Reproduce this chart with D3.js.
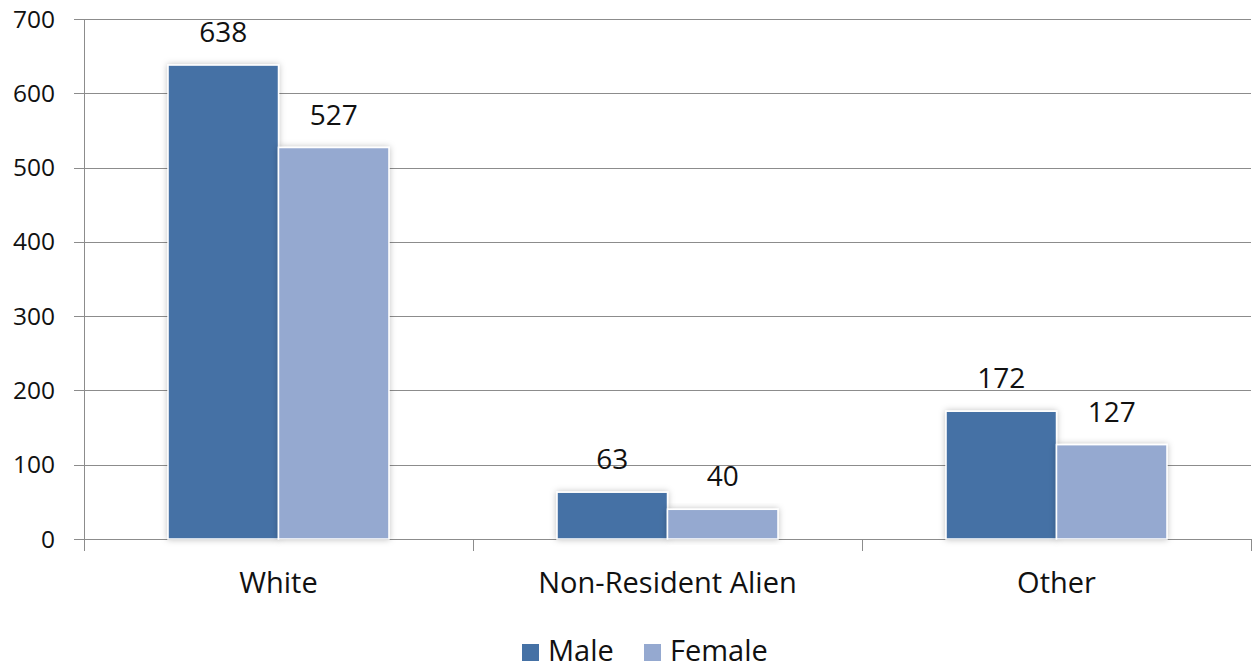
<!DOCTYPE html>
<html><head><meta charset="utf-8">
<script src="https://cdn.jsdelivr.net/npm/d3@7"></script>
<style>body{margin:0;background:#fff}svg{display:block}text{font-family:"Open Sans",sans-serif;fill:#111}</style>
</head><body>
<svg id="c" width="1252" height="668"></svg>
<script>
const categories = ["White", "Non-Resident Alien", "Other"];
const series = ["Male", "Female"];
const male = [638, 63, 172];
const female = [527, 40, 127];
const yTicks = [0, 100, 200, 300, 400, 500, 600, 700];
const colors = {Male: "#4571A5", Female: "#95A9D0"};

(function(){
const values = {Male: male, Female: female};
const svg = d3.select("#c");
const pl = 84, pr = 1251, pt = 19, pb = 539;

const defs = svg.append("defs");
const f = defs.append("filter").attr("id","sh").attr("x","-20%").attr("y","-20%").attr("width","140%").attr("height","140%");
f.append("feDropShadow").attr("dx",0).attr("dy",0).attr("stdDeviation",3).attr("flood-color","#000").attr("flood-opacity",0.25);

const x0 = d3.scaleBand().domain(categories).range([pl, pr]).padding(0);
const bw = x0.bandwidth();
const x1 = d3.scaleBand().domain(series).range([bw*0.216, bw*0.784]).padding(0);
const y = d3.scaleLinear().domain([0, 700]).range([pb, pt]);

// gridlines
svg.append("g").selectAll("line").data(yTicks).join("line")
  .attr("x1", pl - 10).attr("x2", pr).attr("y1", d => Math.round(y(d))+0.5).attr("y2", d => Math.round(y(d))+0.5)
  .attr("stroke", "#8c8c8c").attr("stroke-width", 1);

// y tick labels
svg.append("g").selectAll("text").data(yTicks).join("text")
  .attr("x", pl - 29).attr("y", d => y(d)).attr("dy", "0.35em").attr("text-anchor", "end")
  .attr("font-size", 24.5).text(d => d);

// y axis line
svg.append("line").attr("x1", pl+0.5).attr("x2", pl+0.5).attr("y1", pt).attr("y2", pb + 12)
  .attr("stroke", "#8c8c8c");
// x category ticks
const xt = [pl, ...categories.map(c => x0(c) + bw)];
svg.append("g").selectAll("line").data(xt).join("line")
  .attr("x1", d => Math.round(d)+0.5).attr("x2", d => Math.round(d)+0.5)
  .attr("y1", pb).attr("y2", pb + 12).attr("stroke", "#8c8c8c");

// bars
const groups = svg.append("g").selectAll("g").data(categories).join("g")
  .attr("transform", c => `translate(${x0(c)},0)`);
series.forEach(s => {
  groups.append("rect")
    .attr("x", () => x1(s))
    .attr("y", c => y(values[s][categories.indexOf(c)]))
    .attr("width", x1.bandwidth())
    .attr("height", c => pb - y(values[s][categories.indexOf(c)]))
    .attr("fill", colors[s]).attr("stroke", "#fff").attr("stroke-width", 1.5)
    .attr("filter", "url(#sh)");
  groups.append("text")
    .attr("x", x1(s) + x1.bandwidth()/2)
    .attr("y", c => y(values[s][categories.indexOf(c)]) - 23)
    .attr("text-anchor", "middle").attr("font-size", 28)
    .text(c => values[s][categories.indexOf(c)]);
});

// category labels
svg.append("g").selectAll("text").data(categories).join("text")
  .attr("x", c => x0(c) + bw/2).attr("y", 593).attr("text-anchor", "middle")
  .attr("font-size", 29).text(c => c);

// legend
const lg = svg.append("g");
const lx = [522, 644];
series.forEach((s, i) => {
  lg.append("rect").attr("x", lx[i]).attr("y", 644).attr("width", 17).attr("height", 17).attr("fill", colors[s]);
  lg.append("text").attr("x", lx[i] + 26).attr("y", 661).attr("font-size", 29).text(s);
});
})();
</script>
</body></html>
